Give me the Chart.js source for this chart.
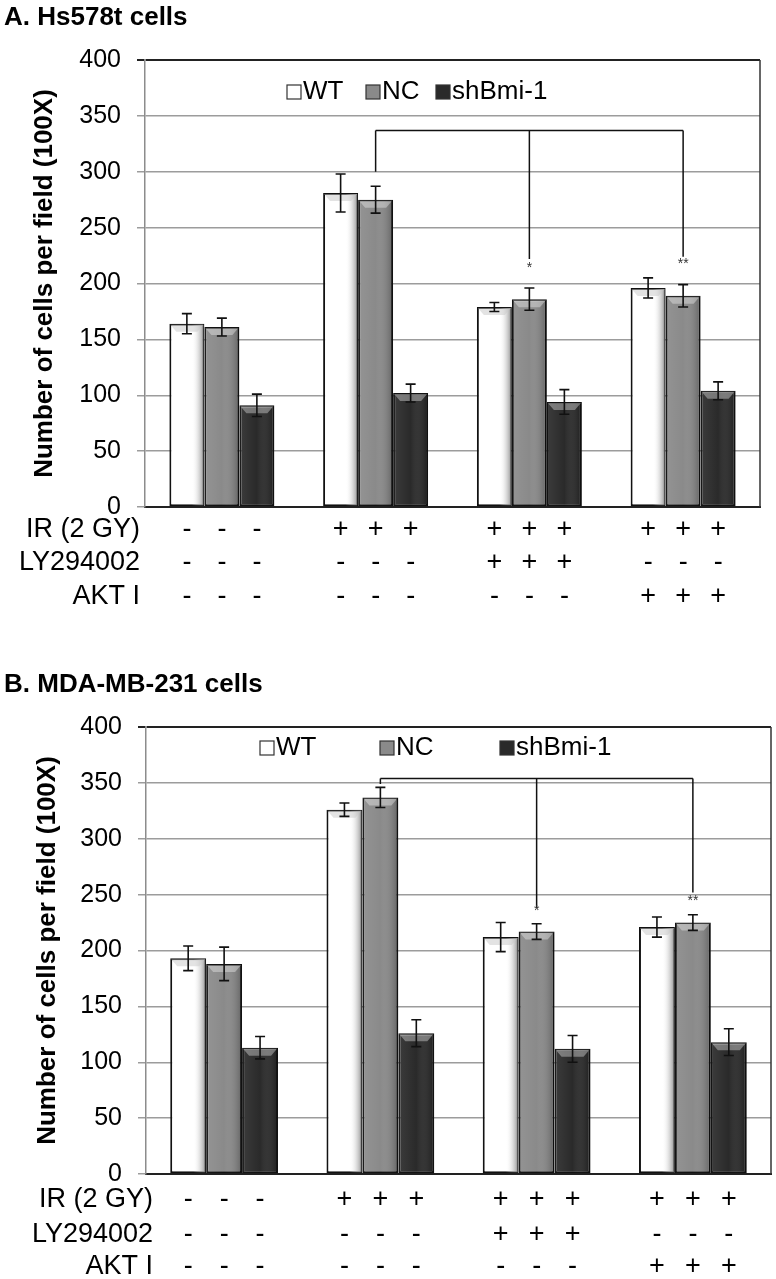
<!DOCTYPE html>
<html>
<head>
<meta charset="utf-8">
<script src="https://cdn.jsdelivr.net/npm/chart.js@4.4.1/dist/chart.umd.min.js"></script>
<style>
  body { margin: 0; background: #fff; }
  .panel { position: absolute; left: 0; width: 776px; }
  #wrapA { top: 0; height: 640px; }
  #wrapB { top: 640px; height: 639px; }
</style>
</head>
<body>
<div class="panel" id="wrapA"><canvas id="chartA" width="776" height="640"></canvas></div>
<div class="panel" id="wrapB"><canvas id="chartB" width="776" height="639"></canvas></div>
<script>
// categories and series
const groups = ["Control", "IR", "IR + LY294002", "IR + AKT I"];
const seriesNames = ["WT", "NC", "shBmi-1"];
const yTicks = [0, 50, 100, 150, 200, 250, 300, 350, 400];

// A. Hs578t cells
const hsWT = [164, 281, 179, 196];
const hsWTErr = [9, 17, 4, 9];
const hsNC = [161, 275, 186, 189];
const hsNCErr = [8, 12, 10, 10];
const hsSh = [91, 102, 94, 104];
const hsShErr = [10, 8, 11, 8];
const hsBracketTop = 337;
const hsBracketEnds = [300, 222, 224];
const hsStars = ["", "*", "**"];
const hsStarY = [0, 214, 217];

// B. MDA-MB-231 cells
const mdaWT = [193, 326, 212, 221];
const mdaWTErr = [11, 6, 13, 9];
const mdaNC = [188, 337, 217, 225];
const mdaNCErr = [15, 9, 7, 7];
const mdaSh = [113, 126, 112, 118];
const mdaShErr = [10, 12, 12, 12];
const mdaBracketTop = 354;
const mdaBracketEnds = [349, 238, 252];
const mdaStars = ["", "*", "**"];
const mdaStarY = [0, 235, 244];

// treatment rows under the bars
const rowLabels = ["IR (2 GY)", "LY294002", "AKT I"];
const irSigns = ["-", "+", "+", "+"];
const lySigns = ["-", "-", "+", "-"];
const aktSigns = ["-", "-", "-", "+"];

const FONT = "'Liberation Sans', Arial, sans-serif";
const colors = ["#ffffff", "#8a8a8a", "#2a2a2a"];

function buildChart(canvasId, cfg) {
    const ctx = document.getElementById(canvasId).getContext("2d");

    const overlay = {
        id: "overlay" + canvasId,
        afterDatasetsDraw(chart) {
            const c = chart.ctx;
            const yScale = chart.scales.y;
            const area = chart.chartArea;

            // bevel shading on bars
            chart.data.datasets.forEach((ds, i) => {
                chart.getDatasetMeta(i).data.forEach(bar => {
                    const w = bar.width;
                    const left = bar.x - w / 2 + 1;
                    const top = bar.y + 1;
                    const g = c.createLinearGradient(left, 0, left + w - 2, 0);
                    if (i === 0) {
                        g.addColorStop(0, "rgba(255,255,255,0)");
                        g.addColorStop(0.65, "rgba(255,255,255,0)");
                        g.addColorStop(1, "rgba(140,140,140,0.85)");
                    } else {
                        g.addColorStop(0, "rgba(255,255,255,0.08)");
                        g.addColorStop(0.5, "rgba(255,255,255,0)");
                        g.addColorStop(1, "rgba(0,0,0,0.25)");
                    }
                    c.save();
                    c.fillStyle = g;
                    c.fillRect(left, top, w - 2, bar.base - top - 1);
                    // top bevel
                    c.beginPath();
                    c.moveTo(left, top);
                    c.lineTo(left + w - 2, top);
                    c.lineTo(left + w - 8, top + 7);
                    c.lineTo(left + 6, top + 7);
                    c.closePath();
                    c.fillStyle = i === 0 ? "rgba(200,200,200,0.5)" : "rgba(255,255,255,0.35)";
                    c.fill();
                    c.restore();
                });
            });

            // error bars
            c.save();
            c.strokeStyle = "#111";
            c.lineWidth = 1.6;
            cfg.errors.forEach((errs, i) => {
                const vals = chart.data.datasets[i].data;
                chart.getDatasetMeta(i).data.forEach((bar, j) => {
                    const yHi = yScale.getPixelForValue(vals[j] + errs[j]);
                    const yLo = yScale.getPixelForValue(vals[j] - errs[j]);
                    c.beginPath();
                    c.moveTo(bar.x, yHi); c.lineTo(bar.x, yLo);
                    c.moveTo(bar.x - 5, yHi); c.lineTo(bar.x + 5, yHi);
                    c.moveTo(bar.x - 5, yLo); c.lineTo(bar.x + 5, yLo);
                    c.stroke();
                });
            });

            // significance bracket from the IR group to the inhibitor groups
            const ncBars = chart.getDatasetMeta(1).data;
            const yTop = yScale.getPixelForValue(cfg.bracketTop);
            c.lineWidth = 1.5;
            c.beginPath();
            c.moveTo(ncBars[1].x, yTop);
            c.lineTo(ncBars[3].x, yTop);
            cfg.bracketEnds.forEach((v, k) => {
                c.moveTo(ncBars[k + 1].x, yTop);
                c.lineTo(ncBars[k + 1].x, yScale.getPixelForValue(v));
            });
            c.stroke();
            c.fillStyle = "#333";
            c.font = "14px " + FONT;
            c.textAlign = "center";
            c.textBaseline = "middle";
            cfg.stars.forEach((s, k) => {
                if (s) c.fillText(s, ncBars[k + 1].x, yScale.getPixelForValue(cfg.starY[k]));
            });

            // right frame line
            c.strokeStyle = "#333";
            c.lineWidth = 1.5;
            c.beginPath();
            c.moveTo(area.right, area.top);
            c.lineTo(area.right, area.bottom);
            c.stroke();
            c.restore();
        },
        afterDraw(chart) {
            const c = chart.ctx;
            c.save();
            c.fillStyle = "#000";
            c.textBaseline = "middle";

            // panel title
            c.font = "bold 26px " + FONT;
            c.textAlign = "left";
            c.fillText(cfg.title, 4, cfg.titleY);

            // legend
            c.font = "26px " + FONT;
            seriesNames.forEach((name, i) => {
                const x = cfg.legendX[i];
                c.fillStyle = colors[i];
                c.fillRect(x, cfg.legendY - 7, 14, 14);
                c.strokeStyle = "#333";
                c.lineWidth = 1.2;
                c.strokeRect(x, cfg.legendY - 7, 14, 14);
                c.fillStyle = "#000";
                c.fillText(name, x + 16, cfg.legendY);
            });

            // treatment rows
            c.font = "27px " + FONT;
            const rows = [irSigns, lySigns, aktSigns];
            rowLabels.forEach((lab, r) => {
                const y = cfg.rowY[r];
                c.textAlign = "right";
                c.fillText(lab, cfg.rowLabelX, y);
                c.textAlign = "center";
                chart.data.datasets.forEach((ds, i) => {
                    chart.getDatasetMeta(i).data.forEach((bar, j) => {
                        c.fillText(rows[r][j], bar.x, y);
                    });
                });
            });
            c.restore();
        }
    };

    return new Chart(ctx, {
        type: "bar",
        data: {
            labels: groups,
            datasets: cfg.values.map((vals, i) => ({
                label: seriesNames[i],
                data: vals,
                backgroundColor: colors[i],
                borderColor: "#111",
                borderWidth: 2,
                borderSkipped: false,
                categoryPercentage: cfg.catPct,
                barPercentage: 1.0
            }))
        },
        options: {
            responsive: false,
            animation: false,
            layout: { padding: cfg.padding },
            plugins: {
                legend: { display: false },
                tooltip: { enabled: false }
            },
            scales: {
                x: {
                    grid: { display: false },
                    ticks: { display: false },
                    border: { display: true, color: "#222", width: 2 },
                    afterFit: s => { s.height = 0; s.paddingLeft = 0; s.paddingRight = 0; }
                },
                y: {
                    min: 0,
                    max: 400,
                    afterBuildTicks: s => { s.ticks = yTicks.map(v => ({ value: v })); },
                    afterFit: s => { s.width = cfg.yWidth; s.paddingTop = 0; s.paddingBottom = 0; },
                    grid: {
                        color: c => c.tick && c.tick.value === 400 ? "#222" : "#9c9c9c",
                        lineWidth: c => c.tick && c.tick.value === 400 ? 2 : 1.5,
                        tickLength: 8
                    },
                    border: { display: true, color: "#8c8c8c", width: 1.5 },
                    ticks: {
                        color: "#000",
                        padding: 16,
                        font: { family: FONT, size: 25 }
                    },
                    title: {
                        display: true,
                        text: "Number of cells per field (100X)",
                        color: "#000",
                        padding: 0,
                        font: { family: FONT, size: 26, weight: "bold" }
                    }
                }
            }
        },
        plugins: [overlay]
    });
}

buildChart("chartA", {
    title: "A. Hs578t cells",
    titleY: 18,
    values: [hsWT, hsNC, hsSh],
    errors: [hsWTErr, hsNCErr, hsShErr],
    bracketTop: hsBracketTop,
    bracketEnds: hsBracketEnds,
    stars: hsStars,
    starY: hsStarY,
    catPct: 0.683,
    padding: { left: 29, top: 60, right: 16, bottom: 133 },
    yWidth: 116,
    legendX: [287, 366, 436],
    legendY: 92,
    rowY: [530, 563, 597],
    rowLabelX: 140
});

buildChart("chartB", {
    title: "B. MDA-MB-231 cells",
    titleY: 45,
    values: [mdaWT, mdaNC, mdaSh],
    errors: [mdaWTErr, mdaNCErr, mdaShErr],
    bracketTop: mdaBracketTop,
    bracketEnds: mdaBracketEnds,
    stars: mdaStars,
    starY: mdaStarY,
    catPct: 0.69,
    padding: { left: 32, top: 87, right: 5, bottom: 105 },
    yWidth: 114,
    legendX: [260, 380, 500],
    legendY: 108,
    rowY: [560, 595, 627],
    rowLabelX: 153
});
</script>
</body>
</html>
